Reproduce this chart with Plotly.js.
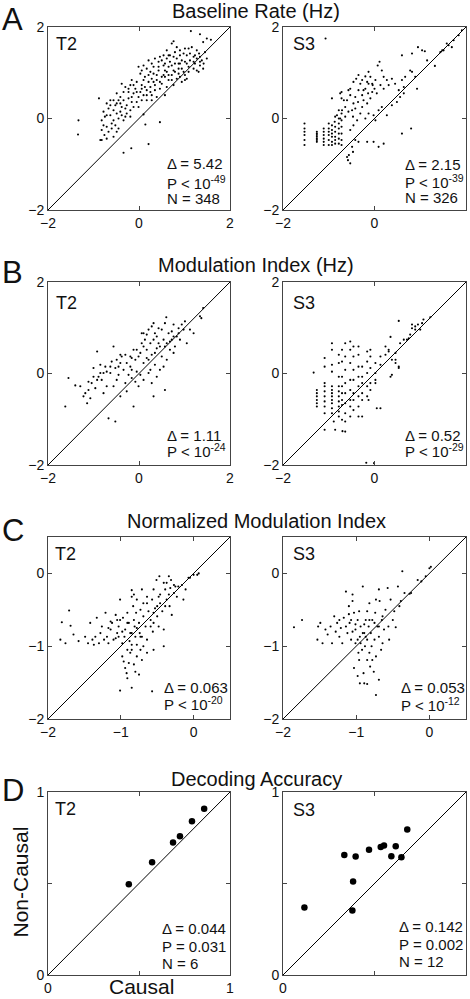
<!DOCTYPE html>
<html><head><meta charset="utf-8">
<script src="https://cdn.plot.ly/plotly-3.0.1.min.js"></script>
<style>html,body{margin:0;padding:0;background:#fff}#chart{width:470px;height:999px}</style>
</head><body><div id="chart"></div>
<script>
// ---------- DATA ----------
const baselineT2 = [[1.14,1.91],[1.34,1.84],[1.49,1.75],[1.58,1.72],[1.41,1.67],[0.76,1.69],[0.72,1.64],[0.83,1.56],[0.90,1.49],[1.01,1.53],[1.16,1.56],[1.27,1.49],[1.32,1.42],[1.34,1.35],[1.38,1.27],[1.34,1.16],[1.41,1.09],[1.20,1.35],[1.12,1.27],[1.05,1.38],[0.94,1.27],[0.83,1.31],[0.68,1.38],[0.61,1.31],[0.46,1.35],[0.43,1.24],[0.54,1.16],[0.65,1.13],[0.76,1.05],[0.87,1.09],[0.98,1.02],[1.09,1.13],[1.23,1.20],[1.27,1.05],[1.05,0.87],[0.94,0.80],[0.83,0.87],[0.72,0.95],[0.61,1.02],[0.54,0.95],[0.43,1.05],[0.32,1.13],[0.25,1.02],[0.17,1.09],[0.06,1.05],[0.03,0.98],[0.13,0.91],[0.28,0.87],[0.39,0.84],[0.50,0.76],[0.61,0.69],[0.46,0.65],[0.35,0.73],[0.25,0.69],[0.17,0.62],[0.06,0.73],[-0.05,0.80],[-0.16,0.84],[-0.19,0.73],[-0.08,0.65],[0.03,0.58],[0.10,0.51],[-0.01,0.47],[-0.12,0.55],[-0.23,0.58],[-0.30,0.69],[-0.38,0.76],[-0.49,0.55],[-0.41,0.47],[-0.34,0.40],[-0.23,0.44],[-0.16,0.36],[-0.27,0.29],[-0.38,0.25],[-0.49,0.33],[-0.56,0.40],[-0.63,0.40],[-0.71,0.33],[-0.67,0.22],[-0.78,0.15],[-0.75,0.04],[-0.82,-0.04],[-0.78,-0.15],[-0.71,-0.18],[-0.82,-0.25],[-0.71,-0.44],[-0.82,-0.47],[-0.88,0.44],[-0.63,0.07],[-0.56,-0.04],[-0.52,-0.15],[-0.49,-0.29],[-0.60,-0.22],[-0.45,0.00],[-0.38,0.07],[-0.34,-0.04],[-0.27,0.11],[-0.19,0.18],[-0.41,0.15],[-0.56,0.18],[-1.33,-0.04],[-1.34,-0.35],[-0.17,-0.65],[-0.34,-0.75],[0.21,-0.56],[0.14,-0.13],[0.46,-0.08],[0.10,0.09],[-0.01,0.25],[0.17,0.40],[0.28,0.51],[0.39,0.47],[0.57,0.51],[0.65,0.84],[0.76,0.73],[1.01,0.84],[1.20,1.09],[1.31,1.02],[1.49,1.31],[1.45,1.45],[1.05,1.20],[0.90,1.20],[0.79,1.20],[0.68,1.24],[0.57,1.05],[0.50,0.91],[0.39,0.95],[0.65,0.95],[0.72,0.84],[0.87,0.98],[0.94,1.09],[1.01,1.24],[1.12,1.42],[1.23,1.38],[0.90,1.38],[0.79,1.45],[0.61,1.49],[0.54,1.38],[0.35,1.31],[0.28,1.20],[0.21,1.27],[0.10,1.16],[-0.01,1.13],[0.43,1.13],[0.50,1.27],[0.57,1.20],[0.72,1.16],[0.79,1.02],[0.90,0.91],[1.01,0.95],[1.09,1.02],[1.20,1.24],[1.27,1.31],[1.34,1.24],[1.42,1.20],[1.09,1.53],[0.98,1.42],[0.87,1.20],[0.76,1.35],[0.65,1.38],[0.57,0.91],[0.46,0.80],[0.32,0.80],[0.21,0.80],[0.10,0.84],[0.21,0.95],[0.32,0.98],[-0.12,0.73],[-0.23,0.65],[-0.34,0.58],[-0.45,0.40],[-0.52,0.29],[-0.41,0.33],[-0.30,0.22],[-0.16,0.47],[-0.05,0.58],[0.06,0.65],[0.13,0.69],[0.25,0.58],[0.35,0.62],[-0.63,0.29],[-0.71,0.07],[-0.60,-0.11],[-0.67,-0.29],[-0.76,-0.36],[-0.85,-0.47],[-0.56,-0.40],[-0.45,-0.22],[-0.49,0.11],[-0.30,0.04],[-0.19,0.04],[-0.12,0.25],[-0.05,0.36],[0.06,0.40],[0.17,0.51],[0.28,0.40]];

const baselineS3 = [[-1.53,-0.11],[-1.53,-0.22],[-1.53,-0.29],[-1.53,-0.36],[-1.53,-0.47],[-1.53,-0.58],[-1.26,-0.29],[-1.26,-0.33],[-1.26,-0.36],[-1.26,-0.40],[-1.26,-0.44],[-1.26,-0.47],[-1.26,-0.51],[-1.11,-0.22],[-1.11,-0.29],[-1.11,-0.36],[-1.11,-0.44],[-1.11,-0.51],[-1.11,-0.58],[-1.00,-0.11],[-1.00,-0.22],[-1.00,-0.29],[-1.00,-0.36],[-1.00,-0.47],[-1.00,-0.58],[-0.93,-0.15],[-0.93,-0.25],[-0.93,-0.33],[-0.93,-0.40],[-0.93,-0.51],[-0.93,-0.58],[-0.86,0.04],[-0.86,-0.18],[-0.86,-0.29],[-0.86,-0.40],[-0.86,-0.47],[-0.86,-0.55],[-0.78,0.18],[-0.78,0.00],[-0.78,-0.11],[-0.78,-0.22],[-0.78,-0.33],[-0.78,-0.44],[-0.78,-0.55],[-0.72,0.58],[-0.72,0.44],[-0.72,0.11],[-0.72,-0.04],[-0.72,-0.18],[-0.72,-0.33],[-0.72,-0.47],[-0.72,-0.58],[-1.07,1.75],[-0.64,0.25],[-0.60,0.40],[-0.53,0.51],[-0.53,0.65],[-0.49,0.18],[-0.46,0.33],[-0.42,0.47],[-0.40,0.87],[-0.31,0.76],[-0.35,0.62],[-0.27,0.51],[-0.24,0.40],[-0.20,0.65],[-0.16,0.80],[-0.13,1.02],[-0.09,0.91],[-0.05,0.76],[0.02,0.84],[0.07,1.16],[0.11,1.24],[0.16,1.05],[0.20,0.91],[0.27,0.84],[0.38,0.87],[0.31,0.73],[0.45,0.76],[0.53,0.62],[0.60,0.84],[0.64,0.69],[0.67,0.91],[0.78,1.05],[0.82,1.02],[0.89,0.91],[0.93,0.65],[0.60,1.38],[0.82,1.42],[0.95,1.56],[1.04,1.49],[1.10,1.47],[1.15,1.27],[1.32,1.15],[1.44,1.45],[1.51,1.49],[1.62,1.60],[1.69,1.56],[1.73,1.71],[1.84,1.82],[1.91,1.93],[1.58,1.64],[1.48,1.49],[0.64,0.55],[0.56,0.47],[0.49,0.36],[0.38,0.29],[0.27,0.07],[0.16,0.25],[0.09,0.18],[-0.02,0.07],[0.02,-0.04],[-0.13,0.11],[-0.20,0.00],[-0.31,0.11],[-0.38,-0.04],[-0.46,-0.15],[-0.53,-0.25],[-0.42,-0.47],[-0.35,-0.51],[-0.49,-0.62],[-0.47,-0.73],[-0.56,-0.80],[-0.58,-0.91],[-0.53,-0.98],[-0.60,-0.84],[-0.16,-0.51],[-0.02,-0.51],[0.09,-0.62],[0.20,-0.55],[0.60,-0.33],[0.80,-0.22],[-0.93,0.44],[-0.75,0.55],[-0.67,0.40],[-0.71,0.18],[-0.64,0.04],[-0.57,0.15],[-0.47,0.04],[-0.42,0.22],[-0.36,0.36],[-0.27,0.25],[-0.16,0.33],[-0.09,0.44],[-0.05,0.58],[-0.24,0.62],[-0.14,0.55],[0.00,0.65],[0.05,0.55],[0.13,0.73],[0.20,0.65],[-0.13,0.76],[-0.04,0.73],[-0.20,0.92],[-0.27,0.84],[-0.35,0.95],[-0.46,0.80],[-0.57,0.62],[-0.75,0.00],[-0.82,0.07],[-0.87,-0.07]];

const modulationT2 = [[-1.62,-0.72],[-1.55,-0.10],[-1.40,-0.26],[-1.29,-0.28],[-1.18,-0.43],[-1.14,-0.65],[-1.07,-0.54],[-1.11,-0.36],[-1.04,-0.21],[-0.96,-0.32],[-1.00,0.12],[-0.92,0.48],[-0.89,-0.07],[-0.82,-0.14],[-0.78,0.01],[-0.85,0.19],[-0.74,0.15],[-0.71,-0.28],[-0.78,-0.43],[-0.67,-0.98],[-0.52,-1.05],[-0.63,0.01],[-0.60,0.26],[-0.56,0.59],[-0.52,0.12],[-0.49,-0.14],[-0.45,-0.03],[-0.41,0.23],[-0.38,0.37],[-0.34,0.08],[-0.30,-0.21],[-0.27,-0.39],[-0.23,-0.03],[-0.19,0.15],[-0.16,0.34],[-0.12,0.52],[-0.08,0.30],[-0.05,0.04],[-0.12,-0.72],[-0.01,-0.28],[0.03,0.45],[0.06,0.66],[0.10,0.88],[0.13,0.74],[0.17,0.52],[0.21,0.30],[0.25,0.08],[0.28,-0.21],[0.32,-0.50],[0.35,0.45],[0.39,0.81],[0.43,0.99],[0.46,0.59],[0.50,0.37],[0.54,0.15],[0.57,-0.36],[0.61,0.66],[0.65,0.88],[0.60,1.23],[0.68,0.52],[0.72,0.74],[0.76,1.07],[0.79,0.59],[0.83,0.81],[0.87,0.88],[0.94,1.07],[0.98,0.96],[1.01,1.14],[1.05,0.66],[1.12,0.96],[1.20,0.88],[1.34,1.25],[1.41,1.43],[1.37,1.21],[0.28,1.03],[0.21,0.96],[0.32,1.10],[0.17,0.85],[0.06,0.88],[-0.16,0.08],[-0.27,0.23],[-0.41,0.41],[-0.45,0.15],[0.10,0.23],[0.17,0.34],[0.28,0.41],[0.39,0.55],[0.43,0.66],[0.54,0.74],[0.57,0.59],[0.68,0.70],[0.76,0.81],[0.32,0.74],[0.25,0.66],[0.10,0.59],[-0.01,0.37],[-0.05,0.52],[-0.19,0.37],[-0.30,0.41],[-0.49,0.30],[-0.63,0.15],[-0.71,0.04],[-0.85,0.01],[-0.92,-0.14],[-1.00,-0.07],[-1.11,-0.18],[-1.22,-0.50],[-0.56,-0.28],[-0.41,-0.50],[0.10,-0.14],[0.39,-0.07],[0.46,0.08],[0.61,0.30],[0.76,0.45],[0.90,0.74],[0.35,0.19],[0.21,0.01],[0.03,-0.03],[-0.08,-0.18],[-0.16,-0.10],[0.35,0.88],[0.50,0.96],[0.57,1.10],[0.72,0.92],[0.87,0.99]];

const modulationS3 = [[-1.26,-0.36],[-1.26,-0.43],[-1.26,-0.50],[-1.26,-0.58],[-1.26,-0.65],[-1.26,-0.72],[-1.33,0.02],[-1.09,0.34],[-1.09,0.15],[-1.09,-0.21],[-1.09,-0.28],[-1.09,-0.39],[-1.09,-0.50],[-1.09,-0.61],[-1.09,-0.72],[-1.09,-0.87],[-1.09,-1.23],[-0.93,0.52],[-0.93,0.19],[-0.93,0.04],[-0.93,-0.28],[-0.93,-0.36],[-0.93,-0.43],[-0.93,-0.50],[-0.93,-0.58],[-0.93,-0.65],[-0.93,-0.76],[-0.93,-0.87],[-0.78,0.41],[-0.78,0.23],[-0.78,-0.07],[-0.78,-0.28],[-0.78,-0.39],[-0.78,-0.50],[-0.78,-0.61],[-0.78,-0.72],[-0.78,-0.83],[-0.78,-0.94],[-0.71,0.52],[-0.71,0.26],[-0.71,-0.07],[-0.71,-0.28],[-0.71,-0.43],[-0.71,-0.58],[-0.71,-0.69],[-0.71,-1.01],[-0.64,0.66],[-0.64,0.37],[-0.64,0.08],[-0.64,-0.21],[-0.64,-0.43],[-0.64,-0.65],[-0.64,-0.87],[-0.64,-1.05],[-0.64,-1.27],[-0.53,0.70],[-0.53,0.52],[-0.53,0.23],[-0.53,-0.14],[-0.53,-0.36],[-0.53,-0.58],[-0.53,-0.72],[-0.53,-0.94],[-0.46,0.59],[-0.46,0.37],[-0.46,0.08],[-0.46,-0.14],[-0.46,-0.43],[-0.46,-0.58],[-0.46,-0.80],[-0.35,0.59],[-0.35,0.41],[-0.35,0.15],[-0.35,-0.07],[-0.35,-0.28],[-0.35,-0.50],[-0.35,-0.72],[-0.35,-0.94],[-0.27,0.15],[-0.27,-0.07],[-0.27,-0.21],[-0.27,-0.43],[-0.27,-0.58],[-0.16,0.48],[-0.16,0.26],[-0.16,0.01],[-0.16,-0.28],[-0.16,-0.50],[-0.09,0.52],[-0.09,0.37],[-0.09,0.12],[-0.09,-0.21],[-0.09,-0.36],[0.02,0.23],[0.02,0.01],[0.02,-0.14],[0.02,-0.21],[0.13,0.37],[0.13,0.19],[0.13,-0.76],[0.24,0.59],[0.24,0.41],[0.31,0.52],[0.31,0.48],[0.38,0.30],[0.38,-0.03],[0.46,0.45],[0.46,0.30],[0.46,0.23],[0.53,0.15],[0.53,0.12],[0.35,0.80],[0.35,-0.07],[0.56,0.66],[0.64,0.74],[0.71,0.74],[0.75,0.77],[0.78,0.85],[0.82,1.07],[0.82,0.99],[0.89,1.03],[0.89,0.96],[0.95,1.07],[1.04,1.10],[1.07,1.18],[0.53,1.15],[1.00,0.96],[1.22,1.23],[-0.18,-1.95],[-0.01,-1.96],[-0.86,-1.23],[-0.70,-1.26],[-0.89,-1.05],[-0.27,-0.94],[0.05,-0.76],[-0.13,-0.58],[-0.93,0.66]];

const normalizedT2 = [[-1.83,-0.91],[-1.81,-0.67],[-1.76,-0.96],[-1.71,-0.51],[-1.69,-0.72],[-1.65,-0.84],[-1.58,-0.93],[-1.49,-0.87],[-1.45,-0.96],[-1.42,-0.68],[-1.39,-0.91],[-1.37,-0.98],[-1.35,-0.87],[-1.33,-0.61],[-1.30,-0.96],[-1.28,-0.82],[-1.26,-0.73],[-1.23,-0.91],[-1.21,-0.54],[-1.19,-0.87],[-1.17,-0.96],[-1.14,-0.77],[-1.12,-0.68],[-1.10,-0.91],[-1.07,-0.57],[-1.05,-0.82],[-1.03,-0.73],[-1.01,-0.36],[-0.98,-0.96],[-0.97,-0.61],[-0.95,-0.87],[-0.94,-0.77],[-0.91,-0.54],[-0.89,-0.68],[-0.88,-0.93],[-0.87,-0.82],[-0.85,-0.23],[-0.85,-0.32],[-0.83,-0.45],[-0.82,-0.64],[-0.81,-0.73],[-0.80,-0.87],[-0.79,-0.54],[-0.78,-0.36],[-0.75,-0.68],[-0.74,-0.82],[-0.73,-0.50],[-0.71,-0.22],[-0.69,-0.59],[-0.66,-0.73],[-0.64,-0.41],[-0.62,-0.52],[-0.59,-0.64],[-0.57,-0.36],[-0.56,-0.80],[-0.55,-0.22],[-0.53,-0.48],[-0.51,-0.09],[-0.50,-0.59],[-0.48,-0.32],[-0.47,-0.04],[-0.46,-0.41],[-0.43,-0.52],[-0.41,-0.77],[-0.39,-0.22],[-0.37,-0.36],[-0.34,-0.04],[-0.33,-0.45],[-0.31,-0.09],[-0.30,-0.57],[-0.27,-0.27],[-0.25,-0.18],[-0.23,-0.32],[-0.21,-0.18],[-0.16,-0.16],[-0.14,-0.36],[-0.11,-0.22],[-0.07,-0.06],[-0.05,-0.06],[0.00,-0.02],[0.05,-0.02],[0.07,0.00],[-0.98,-1.14],[-0.96,-1.21],[-0.94,-1.30],[-0.92,-1.37],[-0.91,-1.44],[-0.89,-1.23],[-0.87,-1.09],[-0.85,-1.05],[-0.82,-1.25],[-0.80,-1.35],[-0.78,-1.14],[-0.75,-1.39],[-0.73,-1.05],[-0.71,-1.19],[-0.69,-1.00],[-0.64,-1.09],[-0.55,-1.05],[-1.01,-1.61],[-0.85,-1.57],[-0.57,-1.62],[-0.41,-1.00],[-0.91,-1.05],[-0.85,-0.98],[-0.78,-0.98],[-0.73,-0.87],[-0.64,-0.91],[-0.55,-0.68],[-0.48,-0.73],[-0.64,-0.32],[-0.69,-0.41],[-0.82,-0.29],[-0.91,-0.68],[-1.01,-0.64],[-1.05,-0.64],[-1.14,-0.66],[-1.17,-0.75],[-1.07,-0.89],[-1.03,-0.87],[-0.98,-0.80],[-0.85,-0.82],[-0.78,-0.75],[-0.71,-0.87],[-0.59,-0.73],[-0.55,-0.54],[-0.50,-0.45],[-0.46,-0.29],[-0.39,-0.45],[-0.34,-0.29],[-0.27,-0.16],[-0.32,-0.20],[-0.41,-0.13],[-0.37,-0.13]];

const normalizedS3 = [[-1.85,-0.74],[-1.74,-0.64],[-1.53,-0.91],[-1.52,-0.73],[-1.49,-0.68],[-1.46,-0.96],[-1.42,-0.77],[-1.39,-0.84],[-1.35,-0.73],[-1.33,-0.96],[-1.30,-0.59],[-1.28,-0.80],[-1.26,-0.68],[-1.23,-0.87],[-1.21,-0.75],[-1.19,-0.96],[-1.17,-0.61],[-1.14,-0.25],[-1.12,-0.82],[-1.10,-0.45],[-1.09,-0.68],[-1.07,-0.91],[-1.05,-0.29],[-1.03,-0.54],[-1.01,-0.77],[-1.01,-0.96],[-0.98,-0.64],[-0.97,-1.09],[-0.96,-1.19],[-0.95,-0.87],[-0.94,-0.73],[-0.92,-1.05],[-0.91,-0.18],[-0.90,-1.37],[-0.89,-0.82],[-0.88,-1.00],[-0.87,-0.64],[-0.85,-1.19],[-0.85,-0.91],[-0.83,-0.73],[-0.82,-0.41],[-0.81,-1.28],[-0.80,-0.82],[-0.79,-1.00],[-0.78,-0.64],[-0.76,-1.35],[-0.75,-0.91],[-0.74,-0.54],[-0.73,-1.14],[-0.71,-0.73],[-0.69,-0.22],[-0.69,-0.87],[-0.68,-0.38],[-0.66,-1.05],[-0.65,-0.64],[-0.64,-0.96],[-0.62,-0.77],[-0.60,-0.50],[-0.57,-0.20],[-0.56,-0.73],[-0.55,-0.91],[-0.53,-0.36],[-0.50,-0.64],[-0.48,-0.52],[-0.46,-0.74],[-0.43,-0.18],[-0.41,-0.45],[-0.39,-0.38],[-0.37,0.03],[-0.34,-0.27],[-0.27,-0.28],[-0.25,-0.27],[-0.16,-0.09],[-0.11,-0.11],[-0.05,-0.04],[0.00,0.07],[0.02,0.09],[-0.69,-1.46],[-0.95,-1.51],[-0.89,-1.51],[-0.85,-1.52],[-0.73,-1.67],[-1.03,-1.30],[-0.98,-1.41],[-0.91,-0.82],[-1.05,-0.80],[-1.14,-0.73],[-0.96,-0.52],[-1.07,-0.64],[-1.01,-0.70],[-0.85,-0.52],[-0.75,-0.68],[-0.69,-0.73],[-0.82,-1.09],[-0.78,-1.19],[-0.98,-0.91],[-0.94,-0.96],[-0.87,-0.87],[-0.89,-0.70],[-0.82,-0.64],[-0.64,-0.59],[-0.73,-0.36],[-1.05,-0.38],[-1.10,-0.56],[-1.23,-0.64]];

const decodingT2 = [[0.444,0.496],[0.572,0.616],[0.687,0.724],[0.725,0.758],[0.791,0.840],[0.858,0.909]];
const decodingS3 = [[0.117,0.369],[0.335,0.656],[0.397,0.647],[0.383,0.511],[0.379,0.353],[0.470,0.685],[0.534,0.700],[0.552,0.707],[0.616,0.704],[0.592,0.649],[0.647,0.644],[0.679,0.795]];

const rangeAB = [-2, 2];
const rangeC = [-2, 0.5];
const rangeD = [0, 1];
const tickValsAB = [-2, 0, 2];
const tickTextAB = ['\u22122', '0', '2'];
const tickValsC = [-2, -1, 0];
const tickTextC = ['\u22122', '\u22121', '0'];
const tickValsD = [0, 1];
const tickTextD = ['0', '1'];
const minorTickValsD = [0.5];

const sectionTitles = ['Baseline Rate (Hz)', 'Modulation Index (Hz)', 'Normalized Modulation Index', 'Decoding Accuracy'];
const panelLetters = ['A', 'B', 'C', 'D'];
const subjects = ['T2', 'S3'];
const statsT2 = [['\u0394 = 5.42', 'P < 10<sup>-49</sup>', 'N = 348'],
                 ['\u0394 = 1.11', 'P < 10<sup>-24</sup>'],
                 ['\u0394 = 0.063', 'P < 10<sup>-20</sup>'],
                 ['\u0394 = 0.044', 'P = 0.031', 'N = 6']];
const statsS3 = [['\u0394 = 2.15', 'P < 10<sup>-39</sup>', 'N = 326'],
                 ['\u0394 = 0.52', 'P < 10<sup>-29</sup>'],
                 ['\u0394 = 0.053', 'P < 10<sup>-12</sup>'],
                 ['\u0394 = 0.142', 'P = 0.002', 'N = 12']];
const xAxisTitle = 'Causal';
const yAxisTitle = 'Non-Causal';

// ---------- LAYOUT ----------
const W = 470, H = 999;
const FONT = 'Liberation Sans, Arial, Helvetica, sans-serif';
const PX = p => p / W;
const PY = p => 1 - p / H;
const rowsPx = [[27, 210], [282, 465], [537, 719], [792, 975]];
const colsPx = [[48, 230], [283, 466]];

const rowData = [
  [baselineT2, baselineS3, rangeAB, tickValsAB, tickTextAB, null, 2.1],
  [modulationT2, modulationS3, rangeAB, tickValsAB, tickTextAB, null, 2.1],
  [normalizedT2, normalizedS3, rangeC, tickValsC, tickTextC, null, 2.1],
  [decodingT2, decodingS3, rangeD, tickValsD, tickTextD, minorTickValsD, 6.5]
];

const traces = [];
const layout = {
  width: W, height: H,
  margin: {l: 0, r: 0, t: 0, b: 0, pad: 0},
  paper_bgcolor: '#fff', plot_bgcolor: '#fff',
  showlegend: false,
  font: {family: FONT, color: '#111'},
  annotations: []
};

function axis(domain, range, tv, tt, minorVals, anchor) {
  const a = {
    domain: domain, range: range, anchor: anchor,
    tickmode: 'array', tickvals: tv, ticktext: tt,
    ticks: 'inside', ticklen: 4, tickwidth: 1, tickcolor: '#444',
    showline: true, linecolor: '#444', linewidth: 1, mirror: 'ticks',
    showgrid: false, zeroline: false, fixedrange: true,
    tickfont: {family: FONT, size: 14, color: '#111'}
  };
  if (minorVals) {
    a.minor = {tickmode: 'array', tickvals: minorVals, ticks: 'inside', ticklen: 4,
      tickwidth: 1, tickcolor: '#444', showgrid: false};
  }
  return a;
}

// stats text line positions (px) per row/col: [left x, [line centres]]
const statPos = [
  [[166, [163, 182, 198.5]], [404, [165, 181, 197.5]]],
  [[166, [435, 451]], [404, [435, 451]]],
  [[163, [687.5, 703.5]], [400, [687.5, 704]]],
  [[161, [928.5, 946, 963]], [398, [926, 944, 961.5]]]
];
const subPos = [
  [[55, 44], [291.5, 44]],
  [[55, 303], [292, 303]],
  [[54, 554], [291.5, 553.5]],
  [[54, 809], [292, 809.5]]
];
const titleY = [11, 265.5, 520.5, 778.5];
const letterY = [19.5, 273, 530, 790.5];

let k = 0;
rowData.forEach((row, r) => {
  const [dT2, dS3, rng, tv, tt, mv, msize] = row;
  [dT2, dS3].forEach((d, c) => {
    k += 1;
    const xs = k === 1 ? 'x' : 'x' + k;
    const ys = k === 1 ? 'y' : 'y' + k;
    const xKey = k === 1 ? 'xaxis' : 'xaxis' + k;
    const yKey = k === 1 ? 'yaxis' : 'yaxis' + k;
    layout[xKey] = axis([PX(colsPx[c][0]), PX(colsPx[c][1])], rng, tv, tt, mv, ys);
    layout[yKey] = axis([PY(rowsPx[r][1]), PY(rowsPx[r][0])], rng, tv, tt, mv, xs);
    traces.push({x: rng, y: rng, xaxis: xs, yaxis: ys, mode: 'lines',
      line: {color: '#000', width: 1}, hoverinfo: 'skip'});
    traces.push({x: d.map(p => p[0]), y: d.map(p => p[1]), xaxis: xs, yaxis: ys,
      mode: 'markers', marker: {size: msize, color: '#000', line: {width: 0}}, cliponaxis: true});
    layout.annotations.push({text: subjects[c], xref: 'paper', yref: 'paper',
      x: PX(subPos[r][c][0]), y: PY(subPos[r][c][1]), xanchor: 'left', yanchor: 'middle',
      showarrow: false, font: {size: 18, family: FONT, color: '#111'}, borderpad: 0});
    const lines = c === 0 ? statsT2[r] : statsS3[r];
    const sp = statPos[r][c];
    lines.forEach((t, i) => {
      layout.annotations.push({text: t, xref: 'paper', yref: 'paper',
        x: PX(sp[0]), y: PY(sp[1][i]), xanchor: 'left', yanchor: 'middle',
        showarrow: false, font: {size: 15, family: FONT, color: '#111'}, borderpad: 0});
    });
  });
  layout.annotations.push({text: sectionTitles[r], xref: 'paper', yref: 'paper',
    x: PX(256), y: PY(titleY[r]), xanchor: 'center', yanchor: 'middle',
    showarrow: false, font: {size: 20, family: FONT, color: '#111'}, borderpad: 0});
  layout.annotations.push({text: panelLetters[r], xref: 'paper', yref: 'paper',
    x: PX(1), y: PY(letterY[r]), xanchor: 'left', yanchor: 'middle',
    showarrow: false, font: {size: 31, family: FONT, color: '#111'}, borderpad: 0});
});

layout.annotations.push({text: xAxisTitle, xref: 'paper', yref: 'paper',
  x: PX(141), y: PY(986), xanchor: 'center', yanchor: 'middle',
  showarrow: false, font: {size: 21, family: FONT, color: '#111'}, borderpad: 0});
layout.annotations.push({text: yAxisTitle, xref: 'paper', yref: 'paper',
  x: PX(19.5), y: PY(882), xanchor: 'center', yanchor: 'middle', textangle: -90,
  showarrow: false, font: {size: 21, family: FONT, color: '#111'}, borderpad: 0});

Plotly.newPlot('chart', traces, layout, {staticPlot: true, displayModeBar: false});
</script>
</body></html>
